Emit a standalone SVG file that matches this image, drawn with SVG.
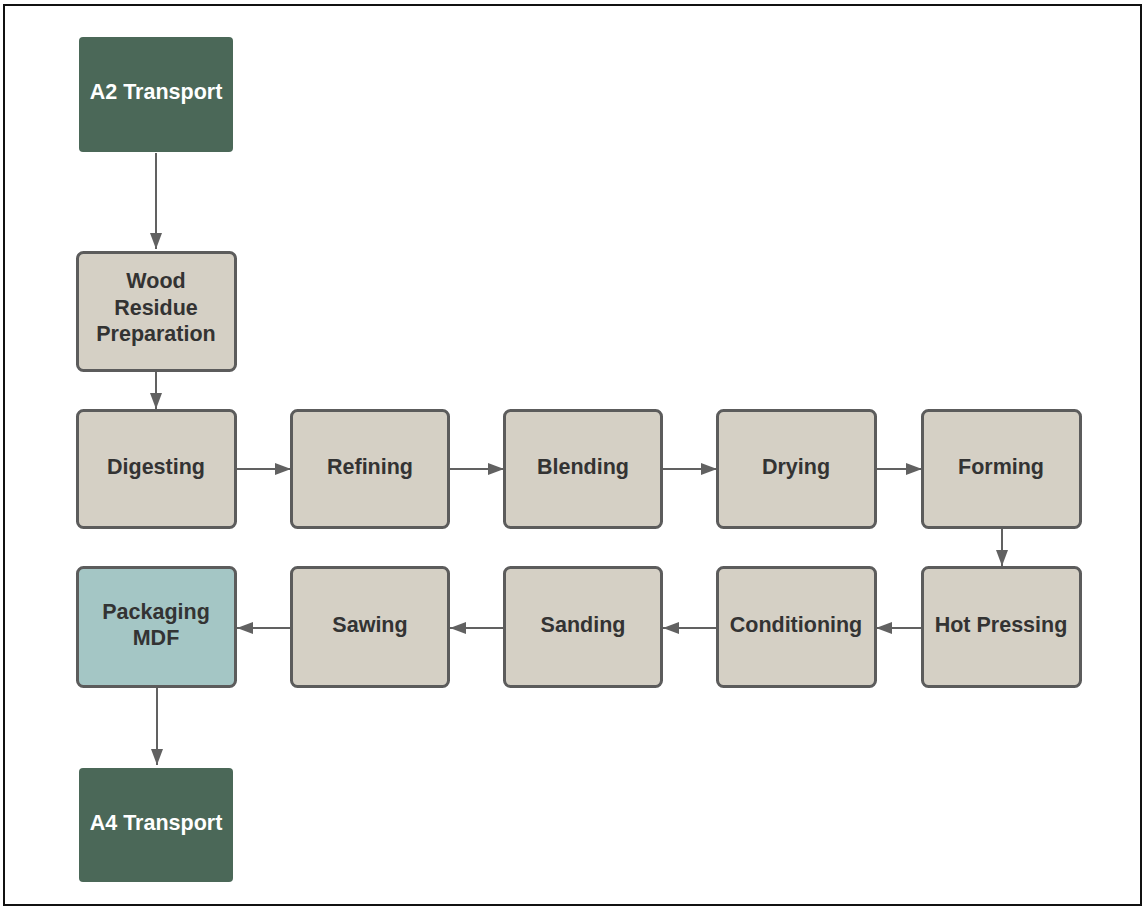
<svg xmlns="http://www.w3.org/2000/svg" width="1143" height="907" viewBox="0 0 1143 907">
<style>
.t{font-family:"Liberation Sans",Arial,sans-serif;font-weight:bold;font-size:21.5px;text-anchor:middle;dominant-baseline:central}
.dk{fill:#4b6858}
.bg{fill:#d5d0c5;stroke:#5c5c5c;stroke-width:3}
.bl{fill:#a4c6c5;stroke:#5c5c5c;stroke-width:3}
.w{fill:#ffffff}
.k{fill:#333333}
.c{stroke:#616161;stroke-width:2;fill:none;marker-end:url(#ah)}
</style>
<defs>
<marker id="ah" markerWidth="16" markerHeight="12" refX="16" refY="6" orient="auto" markerUnits="userSpaceOnUse" viewBox="0 0 16 12">
<path d="M0,0 L16,6 L0,12 Z" fill="#616161"/>
</marker>
</defs>
<rect x="0" y="0" width="1143" height="907" fill="#ffffff"/>
<rect x="4" y="5" width="1137" height="900" fill="none" stroke="#111111" stroke-width="2"/>
<g id="connectors">
<path class="c" d="M156,153 V249"/>
<path class="c" d="M156,372 V409"/>
<path class="c" d="M237,469 H291"/>
<path class="c" d="M450,469 H504"/>
<path class="c" d="M663,469 H717"/>
<path class="c" d="M876,469 H922"/>
<path class="c" d="M1002,529 V566"/>
<path class="c" d="M921,628 H876"/>
<path class="c" d="M716,628 H663"/>
<path class="c" d="M503,628 H450"/>
<path class="c" d="M290,628 H237"/>
<path class="c" d="M157,688 V765"/>
</g>
<g id="a2">
<rect class="dk" x="79" y="37" width="154" height="115" rx="4"/>
<text class="t w" x="156" y="92">A2 Transport</text>
</g>
<g id="wood">
<rect class="bg" x="77.5" y="252.5" width="158" height="118" rx="6"/>
<text class="t k" x="156" y="281">Wood</text>
<text class="t k" x="156" y="308">Residue</text>
<text class="t k" x="156" y="334">Preparation</text>
</g>
<g id="digesting">
<rect class="bg" x="77.5" y="410.5" width="158" height="117" rx="6"/>
<text class="t k" x="156" y="467">Digesting</text>
</g>
<g id="refining">
<rect class="bg" x="291.5" y="410.5" width="157" height="117" rx="6"/>
<text class="t k" x="370" y="467">Refining</text>
</g>
<g id="blending">
<rect class="bg" x="504.5" y="410.5" width="157" height="117" rx="6"/>
<text class="t k" x="583" y="467">Blending</text>
</g>
<g id="drying">
<rect class="bg" x="717.5" y="410.5" width="158" height="117" rx="6"/>
<text class="t k" x="796" y="467">Drying</text>
</g>
<g id="forming">
<rect class="bg" x="922.5" y="410.5" width="158" height="117" rx="6"/>
<text class="t k" x="1001" y="467">Forming</text>
</g>
<g id="hotpressing">
<rect class="bg" x="922.5" y="567.5" width="158" height="119" rx="6"/>
<text class="t k" x="1001" y="625">Hot Pressing</text>
</g>
<g id="conditioning">
<rect class="bg" x="717.5" y="567.5" width="158" height="119" rx="6"/>
<text class="t k" x="796" y="625">Conditioning</text>
</g>
<g id="sanding">
<rect class="bg" x="504.5" y="567.5" width="157" height="119" rx="6"/>
<text class="t k" x="583" y="625">Sanding</text>
</g>
<g id="sawing">
<rect class="bg" x="291.5" y="567.5" width="157" height="119" rx="6"/>
<text class="t k" x="370" y="625">Sawing</text>
</g>
<g id="packaging">
<rect class="bl" x="77.5" y="567.5" width="158" height="119" rx="6"/>
<text class="t k" x="156" y="612">Packaging</text>
<text class="t k" x="156" y="638">MDF</text>
</g>
<g id="a4">
<rect class="dk" x="79" y="768" width="154" height="114" rx="4"/>
<text class="t w" x="156" y="823">A4 Transport</text>
</g>
</svg>
